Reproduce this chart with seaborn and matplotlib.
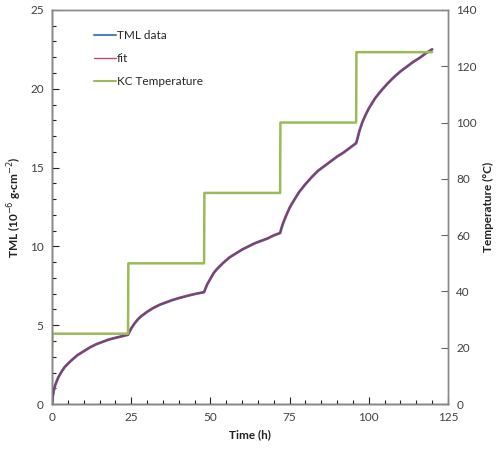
import matplotlib
matplotlib.use("Agg")
import matplotlib.pyplot as plt
import seaborn as sns
import pandas as pd
from matplotlib.ticker import MultipleLocator
from matplotlib.lines import Line2D

sns.set_theme(style="white")
plt.rcParams['font.family'] = ['Lato', 'DejaVu Sans']

time_h = [0, 0.25, 0.5, 1, 2, 3, 4, 6, 8, 10, 12, 14, 16, 18, 20, 22, 24,
          24.5, 25, 26, 27, 28, 30, 32, 34, 36, 38, 40, 42, 44, 46, 48,
          48.5, 49, 50, 51, 52, 54, 56, 58, 60, 62, 64, 66, 68, 70, 72,
          72.5, 73, 74, 75, 76, 78, 80, 82, 84, 86, 88, 90, 92, 94, 96,
          96.5, 97, 98, 99, 100, 102, 104, 106, 108, 110, 112, 114, 116, 118, 120]
tml = [0, 0.5, 0.8, 1.2, 1.7, 2.05, 2.35, 2.75, 3.1, 3.35, 3.6, 3.8, 3.95, 4.1, 4.2, 4.3, 4.4,
       4.6, 4.8, 5.1, 5.35, 5.55, 5.85, 6.1, 6.3, 6.45, 6.6, 6.72, 6.83, 6.93, 7.02, 7.1,
       7.35, 7.6, 7.95, 8.3, 8.55, 8.95, 9.3, 9.55, 9.8, 10.0, 10.2, 10.35, 10.5, 10.7, 10.85,
       11.2, 11.5, 12.0, 12.45, 12.8, 13.45, 13.95, 14.4, 14.8, 15.1, 15.4, 15.7, 15.95, 16.25, 16.55,
       16.9, 17.3, 17.9, 18.35, 18.75, 19.4, 19.9, 20.35, 20.75, 21.1, 21.4, 21.7, 21.95, 22.25, 22.5]
fit = list(tml)

temp_time = [0, 0.1, 24, 24.1, 48, 48.1, 72, 72.1, 96, 96.1, 120]
temp_c = [20, 25, 25, 50, 50, 75, 75, 100, 100, 125, 125]

df = pd.DataFrame({"t": time_h, "tml": tml, "fit": fit})
dft = pd.DataFrame({"t": temp_time, "T": temp_c})

fig = plt.figure(figsize=(5, 4.51), dpi=100)
ax = fig.add_axes([0.104, 0.104, 0.792, 0.874])
ax2 = ax.twinx()

blue = "#4F81BD"
pink = "#C0506D"
green = "#9BBB59"

sns.lineplot(data=df, x="t", y="tml", ax=ax, color=blue, lw=2.0, legend=False)
sns.lineplot(data=df, x="t", y="fit", ax=ax, color="#8E3A66", lw=1.4, legend=False)
sns.lineplot(data=dft, x="t", y="T", ax=ax2, color=green, lw=1.8, legend=False)

ax.set_xlim(0, 125)
ax.set_ylim(0, 25)
ax2.set_ylim(0, 140)
ax.xaxis.set_major_locator(MultipleLocator(25))
ax.xaxis.set_minor_locator(MultipleLocator(5))
ax.yaxis.set_major_locator(MultipleLocator(5))
ax.yaxis.set_minor_locator(MultipleLocator(1))
ax2.yaxis.set_major_locator(MultipleLocator(20))

tc = "#404040"
for a in (ax, ax2):
    for s in a.spines.values():
        s.set_color("#888888")
        s.set_linewidth(1.0)
ax.spines['left'].set_color("#222222")
ax.spines['bottom'].set_color("#222222")
ax.tick_params(axis='both', which='major', direction='in', length=5, width=0.8, color="#222222",
               labelsize=8.5, labelcolor=tc, left=True, bottom=True, pad=6)
ax.tick_params(axis='both', which='minor', direction='in', length=3, width=0.8, color="#222222",
               left=True, bottom=True)
ax2.tick_params(axis='y', which='major', direction='in', length=5, width=0.8, color="#666666",
                labelsize=8.5, labelcolor=tc, right=True, pad=6)

ax.set_xlabel("Time (h)", fontsize=8.5, fontweight='bold', color="#222222")
ax.set_ylabel("TML (10$^{-6}$ g·cm$^{-2}$)", fontsize=8.5, fontweight='bold', color="#222222")
ax2.set_ylabel("Temperature (°C)", fontsize=8.5, fontweight='bold', color="#222222")

handles = [Line2D([], [], color=blue, lw=1.5), Line2D([], [], color=pink, lw=1.0),
           Line2D([], [], color=green, lw=1.5)]
ax.legend(handles, ["TML data", "fit", "KC Temperature"], loc='upper left',
          bbox_to_anchor=(0.08, 0.975), frameon=False, fontsize=8.5, handlelength=1.8,
          handletextpad=0.1, labelspacing=1.0)

fig.savefig("out.png", dpi=100)
